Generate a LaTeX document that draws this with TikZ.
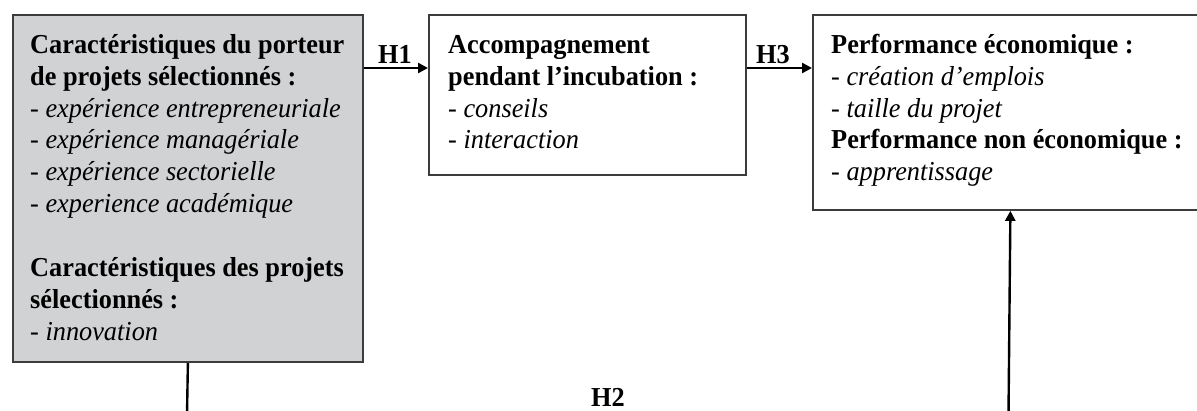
\documentclass[tikz,border=0pt]{standalone}
\usepackage{fontspec}
\setmainfont[FakeStretch=0.96]{Liberation Serif}
\usetikzlibrary{arrows.meta}
\definecolor{boxgray}{HTML}{D1D2D4}
\definecolor{edgecol}{HTML}{3C3C3C}
\newcommand{\firstline}{\rule{0pt}{25pt}}
\begin{document}
\begin{tikzpicture}[x=1pt,y=-1pt,
  box/.style={draw=edgecol, line width=1.8pt, inner sep=0pt, anchor=north west},
  txt/.style={anchor=north west, inner sep=0pt, align=left, font=\fontsize{27.4}{31.9}\selectfont},
  conn/.style={line width=2.4pt, black},
  arr/.style={conn, -{Triangle[length=10pt,width=10pt]}},
  hlab/.style={anchor=base, inner sep=0pt, font=\fontsize{27.4}{31.9}\selectfont\bfseries}]
\useasboundingbox (0,0) rectangle (1197,410);
% boxes
\node[box, fill=boxgray, minimum width=350pt, minimum height=347pt] (A) at (12,14) {};
\node[box, fill=white, minimum width=317pt, minimum height=160pt] (B) at (428,14) {};
\node[box, fill=white, minimum width=395pt, minimum height=195pt] (C) at (812,14) {};
% texts
\node[txt] (tA) at (30,28) {\firstline\textbf{Caractéristiques du porteur}\\
\textbf{de projets sélectionnés :}\\
- \textit{expérience entrepreneuriale}\\
- \textit{expérience managériale}\\
- \textit{expérience sectorielle}\\
- \textit{experience académique}\\[31.9pt]
\textbf{Caractéristiques des projets}\\
\textbf{sélectionnés :}\\
- \textit{innovation}};
\node[txt] (tB) at (448,28) {\firstline\textbf{Accompagnement}\\
\textbf{pendant l’incubation :}\\
- \textit{conseils}\\
- \textit{interaction}};
\node[txt] (tC) at (831,28) {\firstline\textbf{Performance économique :}\\
- \textit{création d’emplois}\\
- \textit{taille du projet}\\
\textbf{Performance non économique :}\\
- \textit{apprentissage}};
% connectors
\draw[arr] ([yshift=-54pt]A.north east) -- ([yshift=-54pt]B.north west);
\draw[arr] ([yshift=-54pt]B.north east) -- ([yshift=-54pt]C.north west);
\coordinate (b1) at (187,415);
\coordinate (b2) at (1008.5,415);
\draw[conn] (A.south) -- (b1);
\draw[arr] (b2) -- (C.south);
% labels
\node[hlab] (h1) at (395,63) {H1};
\node[hlab] (h3) at (773,63) {H3};
\node[hlab] (h2) at (608,406) {H2};
\end{tikzpicture}
\end{document}
